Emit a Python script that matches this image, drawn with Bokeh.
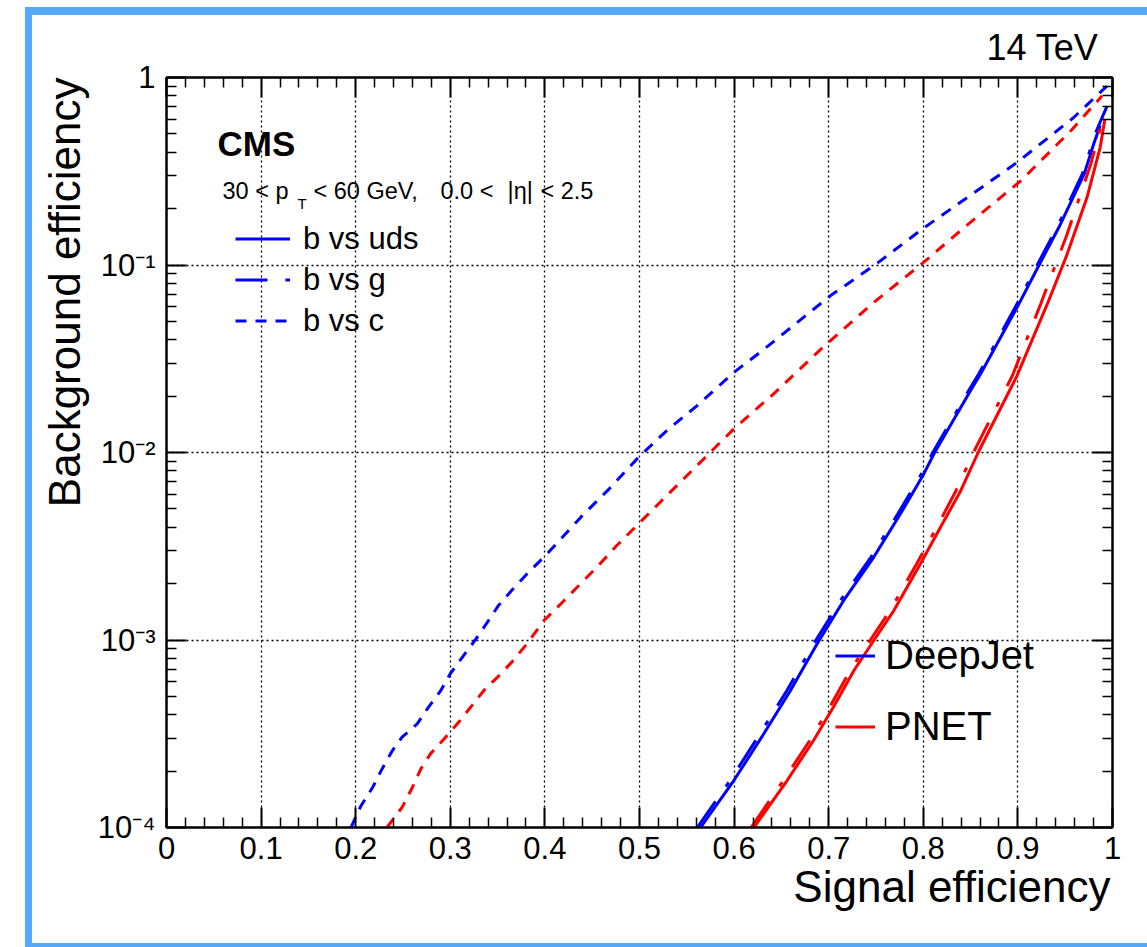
from bokeh.plotting import figure
from bokeh.models import (Range1d, FixedTicker, LinearAxis, LogAxis, Label, Title,
                          Legend, LegendItem)
from bokeh.embed import file_html
from bokeh.resources import INLINE

# ROC curves: signal efficiency vs background efficiency (b-tagging, 30 < pT < 60 GeV)
deepjet_uds_eff = [0.5645, 0.5997, 0.6314, 0.6596, 0.6878, 0.716, 0.7477, 0.7759, 0.8005, 0.812,
                   0.850, 0.8605, 0.899, 0.922, 0.945, 0.970, 0.980, 0.987]
deepjet_uds_bkg = [1.00e-4, 1.78e-4, 3.16e-4, 5.38e-4, 9.55e-4, 1.63e-3, 2.77e-3, 4.71e-3, 7.69e-3, 1.00e-2,
                   2.14e-2, 2.62e-2, 5.93e-2, 9.91e-2, 0.165, 0.305, 0.44, 0.555]

deepjet_g_eff = [0.561, 0.5957, 0.6274, 0.6558, 0.6842, 0.7126, 0.7447, 0.7731, 0.7981, 0.810,
                 0.848, 0.8585, 0.897, 0.920, 0.943, 0.968, 0.983, 0.994]
deepjet_g_bkg = [1.00e-4, 1.78e-4, 3.16e-4, 5.38e-4, 9.55e-4, 1.63e-3, 2.77e-3, 4.71e-3, 7.69e-3, 1.00e-2,
                 2.14e-2, 2.62e-2, 5.93e-2, 9.91e-2, 0.165, 0.305, 0.52, 0.70]

deepjet_c_eff = [0.195, 0.205, 0.218, 0.228, 0.239, 0.249, 0.265, 0.277, 0.290, 0.300,
                 0.314, 0.327, 0.339, 0.351, 0.365, 0.381, 0.399, 0.409, 0.438, 0.468,
                 0.499, 0.529, 0.561, 0.600, 0.630, 0.702, 0.748, 0.800, 0.848, 0.899,
                 0.959, 0.994]
deepjet_c_bkg = [1.00e-4, 1.29e-4, 1.64e-4, 2.06e-4, 2.58e-4, 3.03e-4, 3.57e-4, 4.39e-4, 5.38e-4, 6.61e-4,
                 8.26e-4, 1.01e-3, 1.24e-3, 1.53e-3, 1.84e-3, 2.25e-3, 2.77e-3, 3.13e-3, 4.52e-3, 6.40e-3,
                 9.44e-3, 1.31e-2, 1.78e-2, 2.68e-2, 3.50e-2, 6.87e-2, 9.93e-2, 0.157, 0.232, 0.352,
                 0.612, 0.90]

pnet_uds_eff = [0.621, 0.656, 0.684, 0.705, 0.727, 0.748, 0.769, 0.797, 0.818, 0.839,
                0.858, 0.899, 0.931, 0.952, 0.973, 0.987, 0.992]
pnet_uds_bkg = [1.00e-4, 1.78e-4, 2.91e-4, 4.39e-4, 6.92e-4, 1.00e-3, 1.44e-3, 2.55e-3, 3.98e-3, 6.17e-3,
                1.00e-2, 2.56e-2, 6.18e-2, 0.114, 0.229, 0.424, 0.60]

pnet_g_eff = [0.618, 0.652, 0.680, 0.701, 0.723, 0.744, 0.765, 0.793, 0.814, 0.834,
              0.853, 0.894, 0.924, 0.952, 0.977, 0.991]
pnet_g_bkg = [1.00e-4, 1.78e-4, 2.91e-4, 4.39e-4, 6.92e-4, 1.00e-3, 1.44e-3, 2.55e-3, 3.98e-3, 6.17e-3,
              1.00e-2, 2.56e-2, 6.18e-2, 0.146, 0.345, 0.637]

pnet_c_eff = [0.233, 0.249, 0.260, 0.269, 0.279, 0.295, 0.309, 0.323, 0.337, 0.350,
              0.365, 0.381, 0.399, 0.417, 0.434, 0.455, 0.476, 0.506, 0.536, 0.568,
              0.600, 0.642, 0.691, 0.748, 0.799, 0.843, 0.903, 0.956, 0.989]
pnet_c_bkg = [1.00e-4, 1.28e-4, 1.64e-4, 2.06e-4, 2.47e-4, 3.03e-4, 3.65e-4, 4.48e-4, 5.50e-4, 6.34e-4,
              7.62e-4, 9.55e-4, 1.27e-3, 1.56e-3, 1.91e-3, 2.45e-3, 3.19e-3, 4.52e-3, 6.40e-3, 9.25e-3,
              1.34e-2, 2.06e-2, 3.53e-2, 6.34e-2, 0.102, 0.158, 0.281, 0.520, 0.798]

x_ticks = [0.0, 0.1, 0.2, 0.3, 0.4, 0.5, 0.6, 0.7, 0.8, 0.9, 1.0]
x_tick_labels = ["0", "0.1", "0.2", "0.3", "0.4", "0.5", "0.6", "0.7", "0.8", "0.9", "1"]
y_ticks = [1e-4, 1e-3, 1e-2, 1e-1, 1.0]
y_tick_labels = ["10\u207b\u2074", "10\u207b\u00b3", "10\u207b\u00b2", "10\u207b\u00b9", "1"]

FONT = "Liberation Sans"
BLUE = "#0000ff"
RED = "#ff0000"

x_minor = [round(0.02 * i, 2) for i in range(51) if i % 5]
y_minor = [m * 10.0 ** e for e in range(-4, 0) for m in range(2, 10)]
x_ticker = FixedTicker(ticks=x_ticks, minor_ticks=x_minor)
y_ticker = FixedTicker(ticks=y_ticks, minor_ticks=y_minor)

p = figure(width=1147, height=947, title=None,
           x_range=Range1d(0, 1), y_range=Range1d(1e-4, 1), y_axis_type="log",
           output_backend="svg", toolbar_location=None,
           min_border_left=166, min_border_right=35, min_border_top=77, min_border_bottom=120,
           background_fill_color="white", border_fill_color="white",
           outline_line_color="black", outline_line_width=2)

# light-blue page frame around the canvas
p.stylesheets = [
    ":host::after { content: ''; position: absolute; left: 25px; top: 7px; "
    "width: 1122px; height: 940px; box-sizing: border-box; "
    "border-left: 7.5px solid #56a9f9; border-top: 8px solid #56a9f9; "
    "border-bottom: 4px solid #56a9f9; pointer-events: none; z-index: 100; }"
]


def style_axis(ax, labels=None):
    ax.axis_line_color = "black"
    ax.axis_line_width = 2
    ax.major_tick_in = 20
    ax.major_tick_out = 0
    ax.minor_tick_in = 10
    ax.minor_tick_out = 0
    ax.major_tick_line_color = "black"
    ax.minor_tick_line_color = "black"
    ax.major_tick_line_width = 2
    ax.minor_tick_line_width = 1.5
    ax.major_label_text_font = FONT
    ax.major_label_text_font_size = "31px"
    ax.major_label_text_color = "black"
    if labels is None:
        ax.major_label_text_font_size = "1px"
        ax.major_label_text_alpha = 0


xaxis = p.xaxis[0]
xaxis.ticker = x_ticker
xaxis.major_label_overrides = dict(zip(x_ticks, x_tick_labels))
style_axis(xaxis, x_tick_labels)
xaxis.major_label_standoff = 9

yaxis = p.yaxis[0]
yaxis.ticker = y_ticker
yaxis.major_label_overrides = dict(zip(y_ticks, y_tick_labels))
style_axis(yaxis, y_tick_labels)
yaxis.major_label_standoff = 11

top_axis = LinearAxis(ticker=x_ticker, major_label_overrides={t: "" for t in x_ticks})
style_axis(top_axis)
p.add_layout(top_axis, "above")
right_axis = LogAxis(ticker=y_ticker, major_label_overrides={t: "" for t in y_ticks})
style_axis(right_axis)
p.add_layout(right_axis, "right")


def side_title(text, side, size, offset, standoff):
    # titles flush with the far end of their side of the frame
    p.add_layout(Title(text=text, align="right", offset=offset, standoff=standoff,
                       text_font=FONT, text_font_size=size, text_font_style="normal",
                       text_color="black"), side)


side_title("14 TeV", "above", "36px", 14, 19)
side_title("Signal efficiency", "below", "44px", 2, -3)
side_title("Background efficiency", "left", "44px", 0, 12)

for g, tk in ((p.xgrid[0], x_ticker), (p.ygrid[0], y_ticker)):
    g.ticker = tk
    g.grid_line_color = "black"
    g.grid_line_width = 1.3
    g.grid_line_dash = "2 3"

LW = 3
DASH_G = "32 18 5 18"
DASH_C = "11 9"

r_dj_uds = p.line(deepjet_uds_eff, deepjet_uds_bkg, line_color=BLUE, line_width=LW)
r_dj_g = p.line(deepjet_g_eff, deepjet_g_bkg, line_color=BLUE, line_width=LW, line_dash=DASH_G)
r_dj_c = p.line(deepjet_c_eff, deepjet_c_bkg, line_color=BLUE, line_width=LW, line_dash=DASH_C)
r_pn_uds = p.line(pnet_uds_eff, pnet_uds_bkg, line_color=RED, line_width=LW)
r_pn_g = p.line(pnet_g_eff, pnet_g_bkg, line_color=RED, line_width=LW, line_dash=DASH_G)
r_pn_c = p.line(pnet_c_eff, pnet_c_bkg, line_color=RED, line_width=LW, line_dash=DASH_C)

# legend for the background flavours
leg_flavour = Legend(items=[LegendItem(label="b vs uds", renderers=[r_dj_uds]),
                            LegendItem(label="b vs g", renderers=[r_dj_g]),
                            LegendItem(label="b vs c", renderers=[r_dj_c])],
                     location=(69, 486), orientation="vertical",
                     background_fill_alpha=0, border_line_alpha=0,
                     padding=0, margin=0, spacing=0,
                     glyph_width=55, glyph_height=41, label_height=41, label_standoff=13,
                     label_text_font=FONT, label_text_font_size="31px",
                     label_text_color="black")
p.add_layout(leg_flavour, "center")

# legend for the taggers
leg_tagger = Legend(items=[LegendItem(label="DeepJet", renderers=[r_dj_uds]),
                           LegendItem(label="PNET", renderers=[r_pn_uds])],
                    location=(669, 65), orientation="vertical",
                    background_fill_alpha=0, border_line_alpha=0,
                    padding=0, margin=0, spacing=0,
                    glyph_width=40, glyph_height=71, label_height=71, label_standoff=10,
                    label_text_font=FONT, label_text_font_size="40px",
                    label_text_color="black")
p.add_layout(leg_tagger, "center")


def add_text(x, y, text, size, align="left", baseline="alphabetic", style="normal"):
    p.add_layout(Label(x=x, y=y, text=text, text_font=FONT, text_font_size=size,
                       text_align=align, text_baseline=baseline, text_font_style=style,
                       text_color="black"))


add_text(0.054, 0.445, "CMS", "35px", style="bold")
add_text(0.0592, 0.2496, "30 < p", "23.5px")
add_text(0.1385, 0.2128, "T", "15px")
add_text(0.1554, 0.2496, "< 60 GeV,", "23.5px")
add_text(0.2896, 0.2496, "0.0 <", "23.5px")
add_text(0.3605, 0.2496, "|\u03b7|", "23.5px")
add_text(0.3953, 0.2496, "< 2.5", "23.5px")

open("out.html", "w").write(file_html(p, INLINE))
